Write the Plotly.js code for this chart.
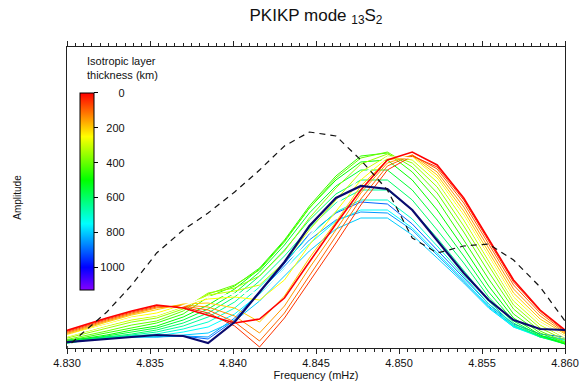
<!DOCTYPE html>
<html>
<head>
<meta charset="utf-8">
<script src="https://cdn.plot.ly/plotly-3.0.1.min.js"></script>
<style>html,body{margin:0;padding:0;background:#fff;}#chart{width:580px;height:390px;}</style>
</head>
<body>
<div id="chart"></div>
<script>
// Frequency samples (mHz)
const freq = [4.8293,4.8308,4.8324,4.8339,4.8354,4.8370,4.8385,4.8401,4.8416,4.8431,4.8446,4.8462,4.8477,4.8493,4.8508,4.8523,4.8539,4.8554,4.8569,4.8585,4.8600];

// Isotropic layer thickness of each model curve (km)
const thicknessKm = [0,50,100,150,200,250,300,350,400,450,500,550,600,650,700,750,800,850,900];

// Model amplitude spectra (arbitrary units), one per thickness
const amp_0   = [14,22,30,37,43,40,33,25,29,50,86,124,158,188,196,183,150,109,68,38,18];
const amp_50  = [13,21,29,36,42,41,35,22,1,30,66,105,143,178,192,181,148,107,66,37,17];
const amp_100 = [12,20,28,35,41,42,38,26,7,35,72,111,149,182,193,179,145,104,63,35,16];
const amp_150 = [11,19,27,34,40,43,41,32,15,42,80,118,155,185,193,176,141,100,59,32,15];
const amp_200 = [10,18,26,33,38,44,45,40,26,52,90,126,162,188,192,173,137,96,55,29,14];
const amp_250 = [9,17,24,31,35,43,49,51,48,68,103,136,168,190,191,170,133,92,51,26,12];
const amp_300 = [8,15,22,28,32,41,53,57,63,86,118,148,176,192,188,166,128,87,47,23,10];
const amp_350 = [7,13,20,26,30,39,55,60,72,97,130,160,184,194,185,161,122,82,43,20,8];
const amp_400 = [6,11,17,23,27,37,54,63,78,106,140,170,190,196,181,155,116,76,39,17,6];
const amp_450 = [5,10,15,20,25,34,51,62,80,108,142,172,192,195,176,148,108,69,34,15,5];
const amp_500 = [4,9,13,18,22,31,43,59,79,107,140,168,186,188,168,138,100,62,30,13,4];
const amp_550 = [3,8,12,16,20,28,39,55,76,103,135,162,178,178,158,128,92,56,27,12,4];
const amp_600 = [3,7,11,14,18,25,35,51,72,98,128,154,168,168,148,118,85,51,25,11,4];
const amp_650 = [3,7,10,13,16,22,31,46,67,92,120,145,158,158,138,110,78,47,23,11,5];
const amp_700 = [4,7,10,12,14,19,26,40,61,86,112,136,148,148,129,102,72,44,22,11,6];
const amp_750 = [5,8,10,11,12,16,21,34,54,79,104,127,138,138,120,95,68,41,21,11,7];
const amp_800 = [6,8,10,11,11,13,15,27,47,72,97,119,130,130,113,90,65,40,21,12,8];
const amp_850 = [7,9,11,11,11,12,11,30,56,83,108,128,136,135,118,93,67,42,22,12,9];
const amp_900 = [7,9,11,12,12,12,9,28,55,85,114,135,146,144,124,98,70,44,24,14,11];

const modelAmp = [amp_0,amp_50,amp_100,amp_150,amp_200,amp_250,amp_300,amp_350,amp_400,amp_450,
                  amp_500,amp_550,amp_600,amp_650,amp_700,amp_750,amp_800,amp_850,amp_900];

// Highlighted curves
const whiteAmp = [9,16,23,30,33,42,51,54,56,78,112,143,172,191,190,168,131,90,49,25,11];
const navyAmp  = [5,7,9,11,13,12,5,26,56,86,122,150,162,159,138,108,75,48,28,19,18];
// Observed spectrum (dashed)
const obsAmp   = [-10,13,36,63,95,118,135,156,178,202,216,212,188,158,110,95,102,104,88,61,27];

// Axis / colorbar labels
const xTicks = [4.830,4.835,4.840,4.845,4.850,4.855,4.860];
const cbTicks = [0,200,400,600,800,1000];
const cbMaxKm = 1130;

function hsv2rgb(h){ // s=v=1
  h = ((h % 360) + 360) % 360;
  const c = 1, x = 1 - Math.abs((h/60) % 2 - 1);
  let r,g,b;
  if (h<60){r=c;g=x;b=0;} else if(h<120){r=x;g=c;b=0;} else if(h<180){r=0;g=c;b=x;}
  else if(h<240){r=0;g=x;b=c;} else if(h<300){r=x;g=0;b=c;} else {r=c;g=0;b=x;}
  return 'rgb('+Math.round(r*255)+','+Math.round(g*255)+','+Math.round(b*255)+')';
}
function kmColor(t){ return hsv2rgb(0.24*t); }

const traces = [];
for (let k = thicknessKm.length-1; k >= 1; k--) {
  traces.push({x:freq, y:modelAmp[k], type:'scatter', mode:'lines',
    line:{color:kmColor(thicknessKm[k]), width:1}, hoverinfo:'skip', showlegend:false});
}
traces.push({x:freq, y:whiteAmp, type:'scatter', mode:'lines', line:{color:'#ffffff', width:1.6}, hoverinfo:'skip', showlegend:false});
traces.push({x:freq, y:modelAmp[0], type:'scatter', mode:'lines', line:{color:kmColor(0), width:1.6}, hoverinfo:'skip', showlegend:false});
traces.push({x:freq, y:navyAmp, type:'scatter', mode:'lines', line:{color:'#0a0a6e', width:2.2}, hoverinfo:'skip', showlegend:false});
traces.push({x:freq, y:obsAmp, type:'scatter', mode:'lines', line:{color:'#111', width:1.2, dash:'6px,5px'}, hoverinfo:'skip', showlegend:false});

// colorbar (0 at top): use negative values
const cscale = [];
for (let t = cbMaxKm; t >= 0; t -= 10) {
  cscale.push([1 - t/cbMaxKm, kmColor(t)]);
}
cscale[cscale.length-1][0] = 1;
if (cscale[0][0] !== 0) cscale.unshift([0, kmColor(cbMaxKm)]);
const pad = s => '\u2007'.repeat(4 - s.length) + s;
traces.push({x:[4.845], y:[-1000], type:'scatter', mode:'markers', hoverinfo:'skip', showlegend:false,
  marker:{color:[-500], cmin:-cbMaxKm, cmax:0, colorscale:cscale, showscale:true, size:1,
    colorbar:{x:0.026, xanchor:'left', y:0.52, yanchor:'middle', len:0.654, lenmode:'fraction',
      thickness:14, thicknessmode:'pixels', xpad:0, ypad:0, outlinewidth:1, outlinecolor:'#000',
      ticks:'outside', ticklen:4, tickcolor:'#000',
      tickvals:cbTicks.map(v=>-v), ticktext:cbTicks.map(v=>pad(String(v))),
      tickfont:{size:11, color:'#111'}, borderwidth:0, bgcolor:'rgba(0,0,0,0)'}}});

const layout = {
  width:580, height:390,
  margin:{l:67, r:15, t:47, b:42},
  paper_bgcolor:'#fff', plot_bgcolor:'#fff',
  font:{family:'"Liberation Sans", Arial, sans-serif', color:'#111'},
  title:{text:'PKIKP mode <sub>13</sub>S<sub>2</sub>', font:{size:17, color:'#111'},
    x:0.5, xref:'paper', xanchor:'center', y:0.962, yref:'container', yanchor:'middle'},
  xaxis:{range:[4.830,4.860], tickvals:xTicks, ticktext:xTicks.map(v=>v.toFixed(3)),
    ticks:'outside', ticklen:5, tickwidth:1, tickcolor:'#222',
    minor:{dtick:0.0005, tick0:4.830, ticks:'outside', ticklen:3, tickcolor:'#222', tickwidth:1},
    showline:true, linecolor:'#222', linewidth:1, mirror:'allticks',
    showgrid:false, zeroline:false, tickfont:{size:11},
    title:{text:'Frequency (mHz)', font:{size:11}, standoff:3}},
  yaxis:{range:[0,301], showticklabels:false, ticks:'', showline:true, linecolor:'#222', linewidth:1,
    mirror:true, showgrid:false, zeroline:false,
    title:{text:'Amplitude', font:{size:10}, standoff:42}},
  annotations:[{text:'Isotropic layer<br>thickness (km)', xref:'paper', yref:'paper',
    x:0.036, xanchor:'left', y:0.93, yanchor:'middle', align:'left', showarrow:false,
    font:{size:11, color:'#111'}}]
};

Plotly.newPlot('chart', traces, layout, {displayModeBar:false, staticPlot:true});
</script>
</body>
</html>
